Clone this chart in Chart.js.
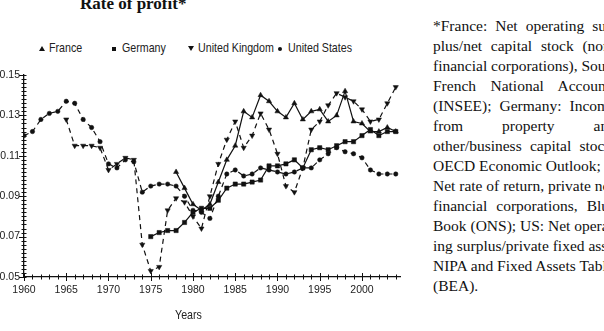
<!DOCTYPE html>
<html>
<head>
<meta charset="utf-8">
<script src="https://cdn.jsdelivr.net/npm/chart.js@4/dist/chart.umd.min.js"></script>
<style>
html, body { margin:0; padding:0; background:#fff; overflow:hidden; width:604px; height:331px; }
#grafica { position:absolute; left:0; top:0; }
#titulo { position:absolute; left:80px; top:-5px; font:bold 17px/17px 'Liberation Serif','Times New Roman',serif; color:#111; white-space:nowrap; }
.item { position:absolute; top:41px; height:14px; }
.marca { position:absolute; top:5px; width:0; height:0; }
.texto { position:absolute; left:10px; top:0; font:13px/14px 'Liberation Sans',Arial,sans-serif; color:#222; white-space:nowrap; transform:scaleX(0.82); transform-origin:0 0; }
#ejeX { position:absolute; left:175px; top:308px; font:13px/14px 'Liberation Sans',Arial,sans-serif; color:#222; transform:scaleX(0.82); transform-origin:0 0; }
#nota { position:absolute; left:433px; top:16px; width:183px; font:15.5px/20px 'Liberation Serif','Times New Roman',serif; color:#111; }
#nota span { display:block; text-align:justify; text-align-last:justify; white-space:nowrap; }
#nota span.ult { text-align-last:left; }
</style>
</head>
<body>
<div id="titulo">Rate of profit*</div>
<div id="leyenda"></div>
<canvas id="grafica" width="420" height="331"></canvas>
<div id="ejeX">Years</div>
<div id="nota"></div>
<script>
// DATOS
const anios = [1960,1961,1962,1963,1964,1965,1966,1967,1968,1969,
               1970,1971,1972,1973,1974,1975,1976,1977,1978,1979,
               1980,1981,1982,1983,1984,1985,1986,1987,1988,1989,
               1990,1991,1992,1993,1994,1995,1996,1997,1998,1999,
               2000,2001,2002,2003,2004];

const francia = [null,null,null,null,null,null,null,null,null,null,
                 null,null,null,null,null,null,null,null,0.102,0.094,
                 0.086,0.083,0.086,0.097,0.108,0.115,0.132,0.129,0.140,0.137,
                 0.132,0.129,0.136,0.128,0.132,0.133,0.127,0.130,0.142,0.127,
                 0.126,0.122,0.122,0.124,0.122];

const alemania = [null,null,null,null,null,null,null,null,null,null,
                  null,null,null,null,null,0.070,0.072,0.073,0.073,0.077,
                  0.082,0.084,0.084,0.088,0.094,0.096,0.096,0.097,0.098,0.105,
                  0.105,0.106,0.108,0.104,0.113,0.114,0.113,0.115,0.117,0.117,
                  0.120,0.123,0.120,0.122,0.122];

const reinoUnido = [null,null,null,null,null,0.128,0.115,0.115,0.115,0.114,
                    0.103,0.106,0.109,0.108,0.066,0.053,0.055,0.083,0.089,0.087,
                    0.080,0.074,0.090,0.106,0.118,0.127,0.114,0.120,0.131,0.123,
                    0.111,0.095,0.092,0.104,0.123,0.127,0.135,0.141,0.139,0.137,
                    0.133,0.127,0.128,0.136,0.144];

const eeuu = [0.120,0.122,0.128,0.131,0.132,0.137,0.136,0.128,0.124,0.117,
              0.106,0.104,0.108,0.107,0.092,0.095,0.096,0.096,0.095,0.090,
              0.083,0.082,0.079,0.090,0.101,0.103,0.100,0.101,0.104,0.103,
              0.102,0.101,0.102,0.104,0.104,0.108,0.111,0.114,0.112,0.111,
              0.109,0.103,0.101,0.101,0.101];

const nombres = ["France", "Germany", "United Kingdom", "United States"];
const ticksX = [1960,1965,1970,1975,1980,1985,1990,1995,2000];
const ticksY = [0.05,0.07,0.09,0.11,0.13,0.15];

const notaLineas = [
  "*France: Net operating sur-",
  "plus/net capital stock (non-",
  "financial corporations), Source:",
  "French National Accounts",
  "(INSEE); Germany: Income",
  "from property and",
  "other/business capital stock,",
  "OECD Economic Outlook; UK:",
  "Net rate of return, private non-",
  "financial corporations, Blue",
  "Book (ONS); US: Net operat-",
  "ing surplus/private fixed assets,",
  "NIPA and Fixed Assets Tables",
  "(BEA)."
];

const fuente = "'Liberation Sans',Arial,sans-serif";

function puntos(serie){
    return anios.map((a, i) => ({x: a, y: serie[i]}));
}

//NOTA
document.getElementById("nota").innerHTML = notaLineas
    .map((t, i) => `<span${i == notaLineas.length - 1 ? " class='ult'" : ""}>${t}</span>`)
    .join("");

//LEYENDA
let posLeyenda = [42, 115, 191, 281];
let formas = [
  "border-left:3px solid transparent;border-right:3px solid transparent;border-bottom:5px solid #111;",
  "width:4px;height:4px;background:#111;top:5.5px;",
  "border-left:3px solid transparent;border-right:3px solid transparent;border-top:5px solid #111;",
  "width:4px;height:4px;border-radius:50%;background:#111;top:5.5px;"
];
let htmlLey = "";
nombres.forEach((n, i) => {
    htmlLey += `<div class="item" style="left:${posLeyenda[i] - 3}px"><span class="marca" style="left:0;${formas[i]}"></span><span class="texto">${n}</span></div>`;
});
document.getElementById("leyenda").innerHTML = htmlLey;

//MARCAS DE LOS EJES
const marcasEjes = {
    id: 'marcasEjes',
    afterDraw(chart){
        let c = chart.ctx;
        let xs = chart.scales.x, ys = chart.scales.y;
        let y0 = chart.chartArea.bottom, x0 = chart.chartArea.left;
        c.save();
        c.strokeStyle = '#111';
        c.lineWidth = 1;
        c.beginPath();
        for (let a = 1960; a <= 2004; a++){
            let px = Math.round(xs.getPixelForValue(a)) + 0.5;
            let l = (a % 5 == 0) ? 4 : 2.5;
            c.moveTo(px, y0 - l);
            c.lineTo(px, y0 + l);
        }
        for (let k = 0; k <= 50; k++){
            let py = Math.round(ys.getPixelForValue(0.05 + k * 0.002)) + 0.5;
            let l = (k % 10 == 0) ? 5 : 2.5;
            c.moveTo(x0 - l, py);
            c.lineTo(x0 + 2.5, py);
        }
        c.stroke();
        c.restore();
    }
};

let base = {
    borderColor: '#111',
    borderWidth: 1.2,
    pointBackgroundColor: '#111',
    pointBorderColor: '#111',
    pointBorderWidth: 0.5,
    tension: 0,
    fill: false
};

new Chart(document.getElementById("grafica"), {
    type: 'line',
    data: {
        datasets: [
            {...base, label: nombres[0], data: puntos(francia), pointStyle: 'triangle', pointRadius: 3},
            {...base, label: nombres[1], data: puntos(alemania), pointStyle: 'rect', pointRadius: 3},
            {...base, label: nombres[2], data: puntos(reinoUnido), pointStyle: 'triangle', pointRotation: 180, pointRadius: 3, borderDash: [5, 4]},
            {...base, label: nombres[3], data: puntos(eeuu), pointStyle: 'circle', pointRadius: 2.2, borderDash: [5, 4]}
        ]
    },
    options: {
        responsive: false,
        animation: false,
        events: [],
        layout: { padding: { top: 75, right: 20, left: 0, bottom: 0 } },
        plugins: { legend: { display: false }, tooltip: { enabled: false } },
        scales: {
            x: {
                type: 'linear', min: 1960, max: 2004.5,
                grid: { display: false, drawTicks: false },
                border: { display: true, color: '#111', width: 1.3 },
                ticks: { font: { family: fuente, size: 10.5 }, color: '#222', padding: 7, maxRotation: 0, autoSkip: false, includeBounds: false,
                         callback: v => String(v) },
                afterBuildTicks: s => { s.ticks = ticksX.map(v => ({value: v})); },
                afterFit: s => { s.height = 54; }
            },
            y: {
                min: 0.05, max: 0.15,
                grid: { display: false, drawTicks: false },
                border: { display: true, color: '#111', width: 1.3 },
                ticks: { font: { family: fuente, size: 10.5 }, color: '#222', padding: 4, includeBounds: false,
                         callback: v => v.toFixed(2) },
                afterBuildTicks: s => { s.ticks = ticksY.map(v => ({value: v})); },
                afterFit: s => { s.width = 24; }
            }
        }
    },
    plugins: [marcasEjes]
});
</script>
</body>
</html>
